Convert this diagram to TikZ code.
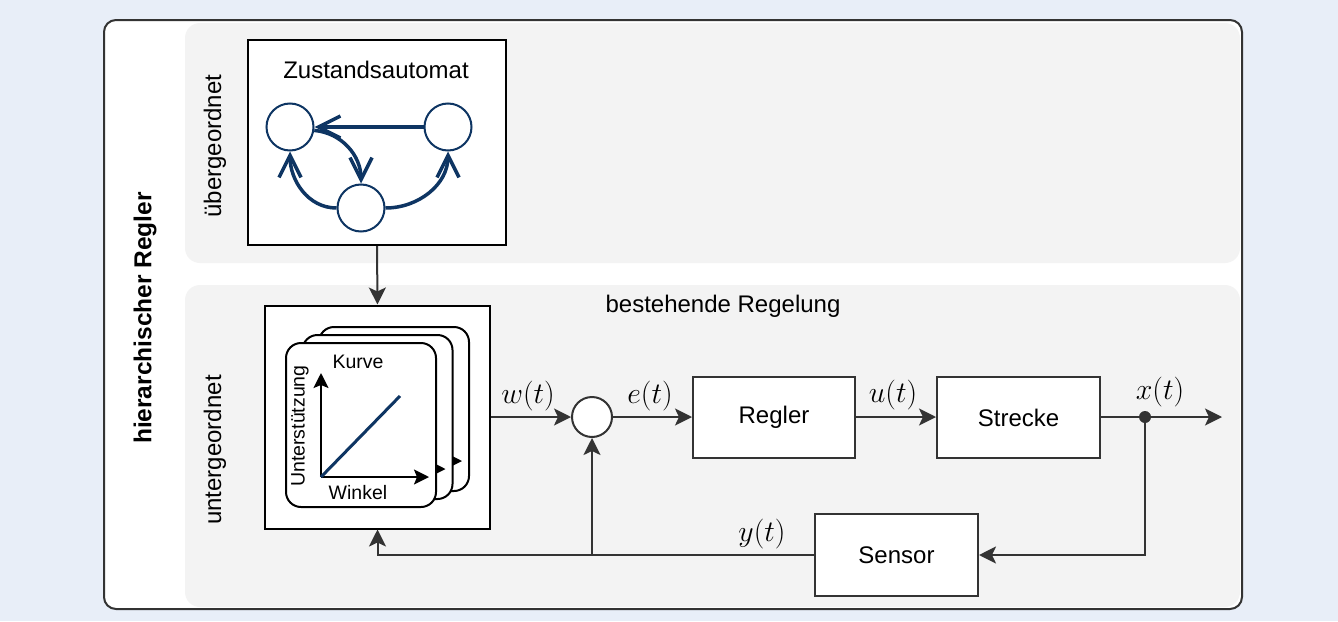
\documentclass[tikz,border=0pt]{standalone}
\usepackage{fontspec}
\setmainfont{Liberation Sans}
\usetikzlibrary{arrows.meta}
\definecolor{bgblue}{HTML}{E8EEF8}
\definecolor{panelgray}{HTML}{F3F3F3}
\definecolor{navy}{HTML}{0E3563}
\definecolor{linegray}{HTML}{333333}
\newcommand{\mlab}[1]{\scalebox{1.2}{$#1$}}
\tikzset{
  txt/.style={font=\fontsize{24}{28}\selectfont, inner sep=0pt},
  smalltxt/.style={font=\fontsize{19.5}{23}\selectfont, inner sep=0pt},
  mathlbl/.style={font=\fontsize{24.88}{30}\selectfont, inner sep=0pt},
  blockbox/.style={draw=linegray, line width=2pt, fill=white, inner sep=0pt},
  flow/.style={draw=linegray, line width=2pt, -{Stealth[length=17pt,width=17pt,inset=4pt]}},
  plainline/.style={draw=linegray, line width=2pt},
  state/.style={circle, draw=navy, line width=2pt, fill=white, minimum size=47pt, inner sep=0pt},
  trans/.style={draw=navy, line width=3.5pt, -{Straight Barb[length=22pt,width=22pt,line cap=butt]}},
  card/.style={draw=black, line width=2pt, fill=white, rounded corners=15pt},
  axis/.style={draw=black, line width=2pt, -{Stealth[length=15pt,width=15pt,inset=3pt]}},
}
\begin{document}
\begin{tikzpicture}[x=1pt, y=-1pt]
\useasboundingbox (0,0) rectangle (1338,621);
\fill[bgblue] (0,0) rectangle (1338,621);
% outer box
\draw[linegray, line width=2pt, fill=white, rounded corners=12pt] (104,20) rectangle (1242,609);
% panels
\fill[panelgray, rounded corners=15pt] (185,23) rectangle (1240,263);
\fill[panelgray, rounded corners=15pt] (185,285) rectangle (1240,607);
% side labels
\node[txt, font=\fontsize{24.5}{28}\selectfont\bfseries, rotate=90] (title) at (145,318) {hierarchischer Regler};
\node[txt, rotate=90] (ueber) at (215,146) {übergeordnet};
\node[txt, rotate=90] (unter) at (215,450) {untergeordnet};
\node[txt] (best) at (723,306) {bestehende Regelung};

% state machine box
\node[draw=black, line width=2pt, fill=white, minimum width=258pt, minimum height=205pt, inner sep=0pt] (za) at (377,142.5) {};
\node[txt] (zatitle) at (376,70) {Zustandsautomat};
\node[state] (s1) at (290,127) {};
\node[state] (s2) at (448,127) {};
\node[state] (s3) at (361,208) {};
\draw[trans] (s2.west) -- (s1.east);
\draw[trans] (s1.-8) to[out=-5,in=90] (s3.north);
\draw[trans] (s3.west) to[out=180,in=-90] (s1.south);
\draw[trans] (s3.east) to[out=0,in=-90] (s2.south);

% characteristic curve box
\node[draw=black, line width=2pt, fill=white, minimum width=225pt, minimum height=223pt, inner sep=0pt] (kl) at (377.5,417) {};
\draw[card] (319,327) rectangle (469,491);
\coordinate (o3) at (354,461);
\coordinate (t3) at (462,461);
\draw[axis] (o3) -- (t3);
\draw[card] (302.5,335) rectangle (452.5,499);
\coordinate (o2) at (337.5,469);
\coordinate (t2) at (445.5,469);
\draw[axis] (o2) -- (t2);
\draw[card] (286,343) rectangle (436,507);
\coordinate (o1) at (321,477);
\coordinate (xe) at (429,477);
\coordinate (ye) at (321,373);
\coordinate (de) at (400,396);
\draw[axis] (o1) -- (xe);
\draw[axis] (o1) -- (ye);
\draw[navy, line width=3pt] (o1) -- (de);
\node[smalltxt] (kurve) at (358,362) {Kurve};
\node[smalltxt] (winkel) at (358,493) {Winkel};
\node[smalltxt, rotate=90] (unterst) at (300,426) {Unterstützung};

\draw[flow] (za.south) -- (kl.north);

% control loop
\node[circle, draw=linegray, line width=2pt, fill=white, minimum size=40pt, inner sep=0pt] (sum) at (592,417) {};
\node[blockbox, minimum width=162pt, minimum height=81pt] (regler) at (774,417) {};
\node[txt] (reglert) at (774,417.5) {Regler};
\node[blockbox, minimum width=163pt, minimum height=81pt] (strecke) at (1018.5,417) {};
\node[txt] (strecket) at (1018.5,417.5) {Strecke};
\node[blockbox, minimum width=163pt, minimum height=82pt] (sensor) at (896.5,555) {};
\node[txt] (sensort) at (896.5,555) {Sensor};
\node[circle, fill=linegray, minimum size=12pt, inner sep=0pt] (dot) at (1145,417) {};
\coordinate (outp) at (1222,417);
\coordinate (j) at (592,555);

\draw[flow] (kl.east |- sum.west) -- (sum.west);
\draw[flow] (sum.east) -- (regler.west |- sum.east);
\draw[flow] (regler.east) -- (strecke.west);
\draw[plainline] (strecke.east) -- (dot.center);
\draw[flow] (dot.center) -- (outp);
\draw[flow] (dot.center) |- (sensor.east);
\draw[flow] (sensor.west) -| (kl.south);
\draw[flow] (j) -- (sum.south);

\node[mathlbl] (wl) at (528,396) {\mlab{w(t)}};
\node[mathlbl] (el) at (650,396) {\mlab{e(t)}};
\node[mathlbl] (ul) at (893,395) {\mlab{u(t)}};
\node[mathlbl] (xl) at (1160,392) {\mlab{x(t)}};
\node[mathlbl] (yl) at (762,534) {\mlab{y(t)}};
\end{tikzpicture}
\end{document}
